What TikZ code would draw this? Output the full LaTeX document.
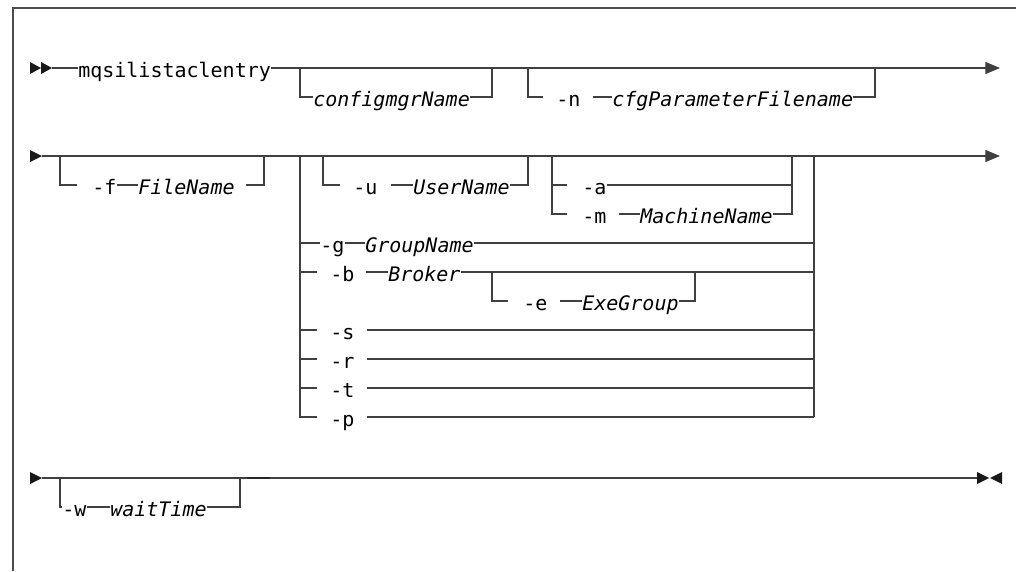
\documentclass[tikz,border=0pt]{standalone}
\usepackage{fontspec}
\setmonofont{DejaVu Sans Mono}
\usetikzlibrary{arrows.meta, positioning, calc}

\begin{document}
\begin{tikzpicture}[x=0.75pt, y=-0.75pt]
            \tikzstyle{rail} = [draw=black!75, line width=0.9pt]
            \tikzstyle{kw} = [font=\ttfamily\fontsize{15}{18}\selectfont, inner sep=0pt, text height=13.5pt, text depth=0pt, anchor=west]
            \tikzstyle{var} = [kw, font=\ttfamily\itshape\fontsize{15}{18}\selectfont]
            \tikzstyle{fwd} = [rail, -{Triangle[length=11pt, width=9pt]}]
            \tikzstyle{railtip} = [fill=black!90]

            \useasboundingbox (0,0) rectangle (1016,571);
            \draw[black!70, line width=1pt] (1016,8) -- (13,8) -- (13,571);

            \coordinate (s1) at (30,68);
            \coordinate (e1) at (1000,68);
            \fill[railtip] (s1) ++(0,-6) -- ++(11,6) -- ++(-11,6) -- cycle;
            \fill[railtip] ($(s1)+(11,0)$) ++(0,-6) -- ++(11,6) -- ++(-11,6) -- cycle;
            \node[kw] (cmd) at (78,68) {mqsilistaclentry};
            \draw[rail] ($(s1)+(22,0)$) -- (cmd.west);
            \draw[fwd] (cmd.east) -- (e1);

            \coordinate (cfgL) at (300,68);
            \coordinate (cfgR) at (492,68);
            \node[var] (cfgmgr) at (313,97) {configmgrName};
            \draw[rail] (cfgL) |- (cfgmgr.west);
            \draw[rail] (cfgmgr.east) -| (cfgR);

            \coordinate (nL) at (528,68);
            \coordinate (nR) at (875,68);
            \node[kw] (optn) at (556,97) {-n};
            \node[var] (cfgfile) at (612,97) {cfgParameterFilename};
            \draw[rail] (nL) |- ($(optn.west)+(-13,0)$);
            \draw[rail] ($(optn.east)+(12,0)$) -- (cfgfile.west);
            \draw[rail] (cfgfile.east) -| (nR);

            \coordinate (s2) at (30,156);
            \coordinate (e2) at (1000,156);
            \fill[railtip] (s2) ++(0,-6) -- ++(12,6) -- ++(-12,6) -- cycle;
            \draw[fwd] ($(s2)+(12,0)$) -- (e2);

            \coordinate (fL) at (60,156);
            \coordinate (fR) at (264,156);
            \node[kw] (optf) at (92,185) {-f};
            \node[var] (fname) at (138,185) {FileName};
            \draw[rail] (fL) |- ($(optf.west)+(-15,0)$);
            \draw[rail] (optf.east) -- (fname.west);
            \draw[rail] ($(fname.east)+(11,0)$) -| (fR);

            \coordinate (gL) at (300,156);
            \coordinate (gR) at (814,156);

            \coordinate (uL) at (323,156);
            \coordinate (uR) at (528,156);
            \node[kw] (optu) at (353,185) {-u};
            \node[var] (uname) at (413,185) {UserName};
            \draw[rail] (uL) |- ($(optu.west)+(-13,0)$);
            \draw[rail] ($(optu.east)+(13,0)$) -- (uname.west);
            \draw[rail] (uname.east) -| (uR);

            \coordinate (amL) at (552,156);
            \coordinate (amR) at (792,156);
            \node[kw] (opta) at (582,185) {-a};
            \node[kw] (optm) at (582,214) {-m};
            \node[var] (mname) at (640,214) {MachineName};
            \draw[rail] (amL) |- ($(optm.west)+(-15,0)$);
            \draw[rail] (amL |- opta) -- ($(opta.west)+(-15,0)$);
            \draw[rail] (opta.east) -- (opta.east -| amR);
            \draw[rail] ($(optm.east)+(12,0)$) -- (mname.west);
            \draw[rail] (mname.east) -| (amR);

            \node[kw] (optg) at (320,243) {-g};
            \node[var] (gname) at (365,243) {GroupName};
            \draw[rail] (gL |- optg) -- (optg.west);
            \draw[rail] (optg.east) -- (gname.west);
            \draw[rail] (gname.east) -- (gname.east -| gR);

            \node[kw] (optb) at (330,272) {-b};
            \node[var] (broker) at (388,272) {Broker};
            \draw[rail] (gL |- optb) -- ($(optb.west)+(-13,0)$);
            \draw[rail] ($(optb.east)+(11,0)$) -- (broker.west);
            \draw[rail] (broker.east) -- (broker.east -| gR);

            \coordinate (eL) at (492,272);
            \coordinate (eR) at (695,272);
            \node[kw] (opte) at (523,301) {-e};
            \node[var] (exegrp) at (582,301) {ExeGroup};
            \draw[rail] (eL) |- ($(opte.west)+(-15,0)$);
            \draw[rail] ($(opte.east)+(12,0)$) -- (exegrp.west);
            \draw[rail] (exegrp.east) -| (eR);

            \foreach \f/\y in {s/330, r/359, t/388, p/417} {
                \node[kw] (opt\f) at (330,\y) {-\f};
                \draw[rail] (gL |- opt\f) -- ($(opt\f.west)+(-13,0)$);
                \draw[rail] ($(opt\f.east)+(12,0)$) -- (opt\f.east -| gR);
            }
            \draw[rail] (gL) |- ($(optp.west)+(-13,0)$);
            \draw[rail] (gR) -- (gR |- optp);

            \coordinate (s3) at (30,478);
            \coordinate (e3) at (977,478);
            \fill[railtip] (s3) ++(0,-6) -- ++(12,6) -- ++(-12,6) -- cycle;
            \draw[rail] ($(s3)+(12,0)$) -- (e3);
            \fill[railtip] (e3) ++(0,-6) -- ++(12,6) -- ++(-12,6) -- cycle;
            \fill[railtip] ($(e3)+(25,0)$) ++(0,-6) -- ++(-12,6) -- ++(12,6) -- cycle;

            \coordinate (wL) at (60,478);
            \coordinate (wR) at (240,478);
            \node[kw] (optw) at (62,507) {-w};
            \node[var] (wtime) at (110,507) {waitTime};
            \draw[rail] (wL) |- (optw.west);
            \draw[rail] (optw.east) -- (wtime.west);
            \draw[rail] (wtime.east) -| (wR);
            \draw[black!85, line width=1.6pt] ($(wR)+(7,0)$) -- ++(23,0);
        \end{tikzpicture}
\end{document}
